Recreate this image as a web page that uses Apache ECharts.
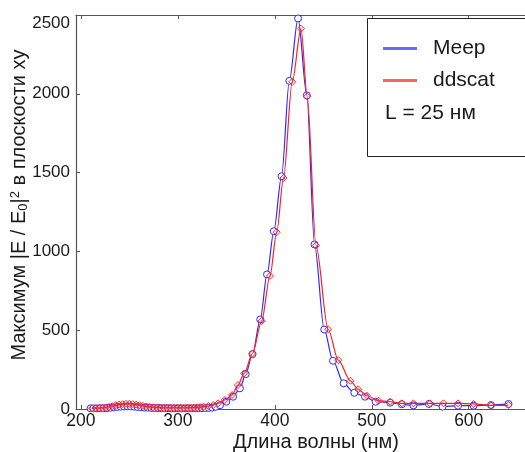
<!DOCTYPE html>
<html>
<head>
<meta charset="utf-8">
<script src="https://cdn.jsdelivr.net/npm/echarts@6/dist/echarts.min.js"></script>
<style>
  html, body { margin: 0; padding: 0; background: #fff; }
  #chart { width: 525px; height: 452px; }
</style>
</head>
<body>
<div id="chart"></div>
<script>
// Meep (синие кружки)
const meepWl = [210, 213, 216.5, 220, 223.5, 227, 230.5, 234, 237.5, 241, 244.5, 248, 251.5, 255, 258.5, 262, 265.5, 269, 272.5, 276,
  279.5, 283, 286.5, 290, 293.5, 297, 300.5, 304, 307.5, 311, 314.5, 318, 321.5, 325, 328.5, 332, 335.5, 339, 343.5, 350,
  357, 364, 370, 377, 385, 392, 399, 407, 415, 424, 433, 441, 451, 460, 471, 482, 493, 504, 519, 531,
  543, 559, 573, 589, 605, 623, 641];
const meepVal = [4, 4, 4, 5, 5, 6, 8, 10, 13, 15, 16, 17, 16, 15, 13, 11, 9, 8, 7, 6,
  6, 5, 5, 5, 4, 4, 4, 4, 4, 4, 4, 5, 5, 5, 6, 7, 9, 14, 24, 46,
  78, 131, 221, 348, 568, 854, 1128, 1477, 2082, 2478, 1990, 1044, 504, 306, 163, 103, 78, 46, 40, 30,
  23, 32, 15, 21, 21, 25, 32];

// ddscat (красные ромбы)
const ddscatWl = [211.5, 215, 218.5, 222, 225.5, 229, 232.5, 236, 239.5, 243, 246.5, 250, 253.5, 257, 260.5, 264, 267.5, 271, 274.5, 278,
  281.5, 285, 288.5, 292, 295.5, 299, 302.5, 306, 309.5, 313, 316.5, 320, 323, 326.5, 331.5, 336.5, 341.5, 348.5, 356, 362,
  368.5, 377, 386.5, 395, 402, 409, 418, 427, 433.5, 442.5, 455, 465.5, 478, 486, 495, 507, 519, 531, 543, 560,
  574, 589, 605, 623, 641];
const ddscatVal = [5, 5, 6, 7, 9, 13, 18, 24, 28, 31, 33, 33, 31, 28, 24, 20, 16, 13, 11, 10,
  9, 8, 8, 8, 8, 8, 8, 8, 8, 9, 9, 10, 12, 15, 19, 25, 36, 57, 89, 152,
  226, 352, 559, 844, 1122, 1466, 2076, 2413, 1983, 1038, 506, 310, 179, 125, 84, 53, 46, 36, 36, 36,
  36, 36, 32, 23, 25];

const xTicks = [200, 300, 400, 500, 600];

const font = "'Liberation Sans', Arial, sans-serif";
const blue = "#2b2bff";
const red = "#ff1f1f";

const chart = echarts.init(document.getElementById("chart"));

const option = {
  animation: false,
  grid: { left: 76, right: -31, top: 15, bottom: 43, containLabel: false, outerBoundsMode: "none" },
  legend: {
    orient: "vertical",
    left: 378,
    top: 33,
    z: 20,
    icon: "rect",
    itemWidth: 32,
    itemHeight: 1,
    itemGap: 11,
    itemStyle: { opacity: 0.7 },
    textStyle: { fontFamily: font, fontSize: 21, color: "#1a1a1a", padding: [0, 0, 0, 12] },
    data: ["Meep", "ddscat"],
  },
  xAxis: [
    {
      type: "value",
      min: 195,
      max: 690,
      name: "Длина волны (нм)",
      nameLocation: "middle",
      nameGap: 23,
      nameMoveOverlap: false,
      nameTextStyle: { fontFamily: font, fontSize: 20, color: "#1a1a1a" },
      axisLine: { lineStyle: { color: "#555", width: 1.2 } },
      axisTick: { inside: true, length: 4, customValues: xTicks, lineStyle: { color: "#555" } },
      axisLabel: { customValues: xTicks, margin: 3, fontFamily: font, fontSize: 17.5, color: "#1a1a1a", formatter: (v) => String(v) },
      splitLine: { show: false },
    },
    {
      type: "value",
      position: "top",
      min: 195,
      max: 690,
      axisLine: { lineStyle: { color: "#555", width: 1.2 } },
      axisTick: { inside: true, length: 4, customValues: xTicks, lineStyle: { color: "#555" } },
      axisLabel: { show: false },
      splitLine: { show: false },
    },
  ],
  yAxis: {
    type: "value",
    min: 0,
    max: 2500,
    interval: 500,
    name: "Максимум |E / E{sub|0}|{sup|2} в плоскости xy",
    nameLocation: "middle",
    nameGap: 46,
    nameMoveOverlap: false,
    nameTextStyle: {
      fontFamily: font,
      fontSize: 20,
      color: "#1a1a1a",
      padding: [0, 0, 0, 14],
      rich: {
        sub: { fontFamily: font, fontSize: 13, color: "#1a1a1a", verticalAlign: "bottom", padding: [6, 0, 0, 0] },
        sup: { fontFamily: font, fontSize: 13, color: "#1a1a1a", verticalAlign: "top", padding: [0, 0, 8, 0] },
      },
    },
    axisLine: { show: true, lineStyle: { color: "#555", width: 1.2 } },
    axisTick: { show: true, inside: true, length: 4, lineStyle: { color: "#555" } },
    axisLabel: { margin: 6, fontFamily: font, fontSize: 17, color: "#1a1a1a", verticalAlignMaxLabel: "top", formatter: (v) => String(v) },
    splitLine: { show: false },
  },
  graphic: [
    {
      type: "rect",
      left: 367,
      top: 18,
      z: 5,
      shape: { width: 200, height: 138 },
      style: { fill: "#fff", stroke: "#222", lineWidth: 1 },
    },
    {
      type: "text",
      left: 385,
      top: 103,
      z: 6,
      style: { text: "L = 25 нм", font: "21px " + font, fill: "#1a1a1a" },
    },
  ],
  series: [
    {
      name: "Meep",
      type: "line",
      data: meepWl.map((w, i) => [w, meepVal[i]]),
      smooth: 0.3,
      smoothMonotone: "x",
      symbol: "circle",
      symbolSize: 7,
      itemStyle: { color: "#fff", borderColor: blue, borderWidth: 1 },
      lineStyle: { color: blue, width: 1.2 },
      color: blue,
      z: 2,
    },
    {
      name: "ddscat",
      type: "line",
      data: ddscatWl.map((w, i) => [w, ddscatVal[i]]),
      smooth: 0.3,
      smoothMonotone: "x",
      symbol: "diamond",
      symbolSize: 7,
      itemStyle: { color: "rgba(255,255,255,0)", borderColor: red, borderWidth: 1 },
      lineStyle: { color: red, width: 1.2 },
      color: red,
      z: 3,
    },
  ],
};

chart.setOption(option);
</script>
</body>
</html>
